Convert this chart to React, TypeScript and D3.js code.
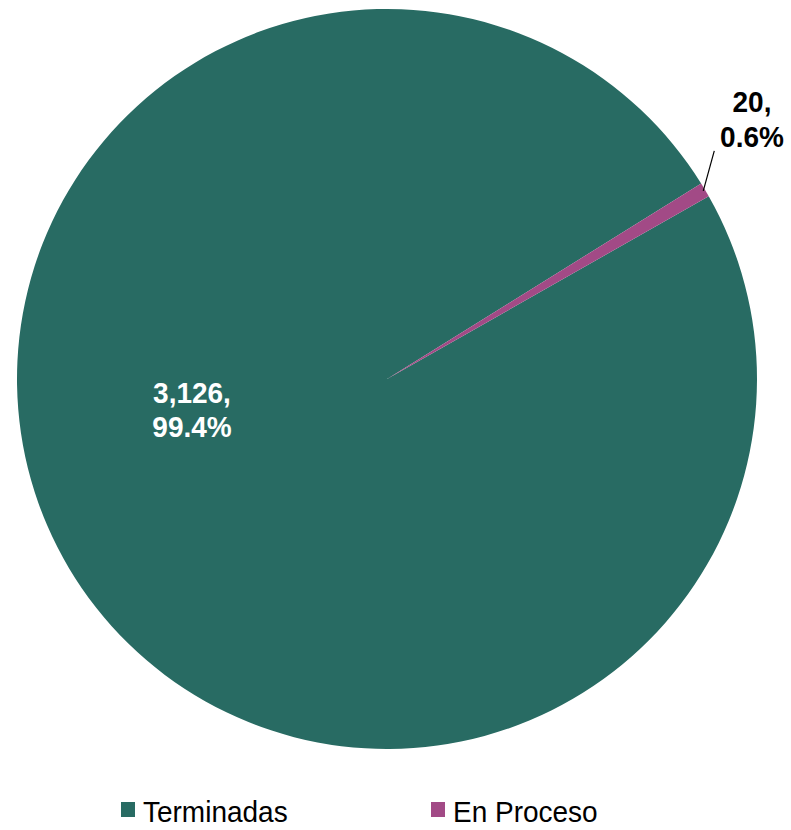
import React from 'react';
import * as d3 from 'd3';

const categories = ['Terminadas', 'En Proceso'];
const values = [3126, 20];
const colors = ['#286B63', '#A24A86'];

const W = 791;
const H = 830;
const cx = 387;
const cy = 379;
const radius = 370;
const startDeg = 60.4;

const FONT = '"Liberation Sans", Arial, sans-serif';

export default function App() {
  const total = d3.sum(values);
  const pie = d3
    .pie<number>()
    .sort(null)
    .value((d) => d)
    .startAngle((startDeg * Math.PI) / 180)
    .endAngle((startDeg * Math.PI) / 180 + 2 * Math.PI);
  const arcs = pie(values);
  const arcGen = d3.arc<d3.PieArcDatum<number>>().innerRadius(0).outerRadius(radius);
  const fmt = d3.format(',');
  const pct = (v: number) => ((v / total) * 100).toFixed(1) + '%';

  // leader line for the small slice
  const small = arcs[1];
  const mid = (small.startAngle + small.endAngle) / 2;
  const lx0 = cx + Math.sin(mid) * (radius - 2);
  const ly0 = cy - Math.cos(mid) * (radius - 2);

  return (
    <svg width={W} height={H} style={{ position: 'absolute', left: 0, top: 0 }}>
      <rect width={W} height={H} fill="#fff" />
      <g transform={`translate(${cx},${cy})`}>
        {arcs.map((a, i) => (
          <path key={categories[i]} d={arcGen(a) || ''} fill={colors[i]} />
        ))}
      </g>
      <line x1={lx0} y1={ly0} x2={lx0 + 11} y2={ly0 - 40} stroke="#000" strokeWidth={1.2} />

      {/* big slice label */}
      <g fontFamily={FONT} fontWeight="bold" fontSize={28} fill="#fff" textAnchor="middle">
        <text transform={`translate(192,403) scale(1,1.08)`}>{fmt(values[0])},</text>
        <text transform={`translate(192,437) scale(1,1.08)`}>{pct(values[0])}</text>
      </g>
      {/* small slice label */}
      <g fontFamily={FONT} fontWeight="bold" fontSize={28} fill="#000" textAnchor="middle">
        <text transform={`translate(752,112) scale(1,1.08)`}>{fmt(values[1])},</text>
        <text transform={`translate(752,147) scale(1,1.08)`}>{pct(values[1])}</text>
      </g>

      {/* legend */}
      <g fontFamily={FONT} fontSize={28} fill="#000">
        {categories.map((c, i) => {
          const x = i === 0 ? 121 : 431;
          return (
            <g key={c}>
              <rect x={x} y={802} width={14} height={15} fill={colors[i]} />
              <text transform={`translate(${x + 22},822) scale(1,1.08)`}>{c}</text>
            </g>
          );
        })}
      </g>
    </svg>
  );
}
